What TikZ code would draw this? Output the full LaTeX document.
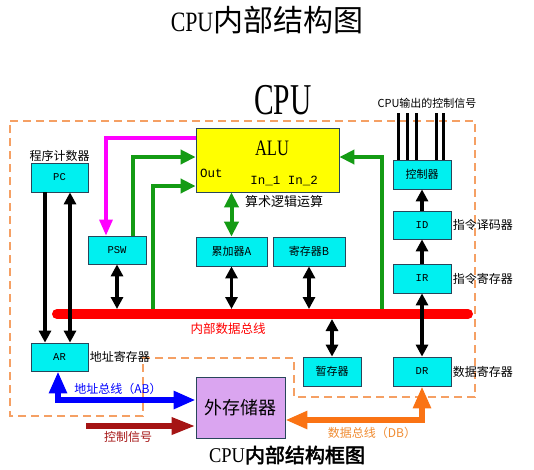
\documentclass[tikz,border=0pt]{standalone}
\usepackage{fontspec}
\usepackage{graphicx}
\setmainfont{Liberation Serif}
\newfontfamily\cjk{Noto Sans CJK SC}
\newfontfamily\cjkbf[FakeBold=2.5]{Noto Sans CJK SC}
\newfontfamily\mono{Liberation Mono}
\usetikzlibrary{arrows.meta}
\definecolor{regcyan}{RGB}{0,240,240}
\definecolor{regline}{RGB}{40,70,90}
\definecolor{alufill}{RGB}{255,255,0}
\definecolor{memfill}{RGB}{218,165,240}
\definecolor{cpuedge}{RGB}{245,160,100}
\definecolor{aluarrow}{RGB}{20,155,20}
\definecolor{pswarrow}{RGB}{255,0,255}
\definecolor{abus}{RGB}{0,0,255}
\definecolor{dbus}{RGB}{250,115,20}
\definecolor{dbustext}{RGB}{240,140,50}
\definecolor{ctrlsig}{RGB}{165,20,20}
\newcommand{\fsz}[1]{\fontsize{#1}{#1}\selectfont}
\newcommand{\narrow}[2]{\scalebox{#1}[1]{#2}}
\tikzset{every path/.style={thick}}
\tikzset{
  reg/.style={draw=regline, fill=regcyan, line width=0.8pt, inner sep=0pt,
    minimum width=58pt, minimum height=29pt, font=\mono\fsz{10.5}},
  cnreg/.style={reg, font=\cjk\fsz{11}},
  note/.style={inner sep=1pt, font=\cjk\fsz{12}},
  blk/.style={black, line width=3.2pt, >={Triangle[length=12pt,width=12pt]}},
  grn/.style={aluarrow, line width=4pt, >={Triangle[length=15pt,width=14pt]}},
  mag/.style={pswarrow, line width=3.2pt, >={Triangle[length=16pt,width=13pt]}},
  abusline/.style={abus, line width=6.5pt, >={Triangle[length=22pt,width=17pt]}},
  dbusline/.style={dbus, line width=6.5pt, >={Triangle[length=22pt,width=17pt]}},
  ctrlline/.style={ctrlsig, line width=6pt, >={Triangle[length=24pt,width=16pt]}},
  cpubound/.style={cpuedge, line width=1.2pt, dash pattern=on 8pt off 5pt}
}

\begin{document}
\begin{tikzpicture}[x=1pt,y=-1pt]
\path[fill=white] (0,0) rectangle (534,469);
\useasboundingbox (0,0) rectangle (534,469);

\node[inner sep=0pt] (title) at (267,20) {\fsz{28}\narrow{0.78}{CPU}\cjk\fsz{30}内部结构图};
\node[inner sep=0pt] (cpulbl) at (283,100) {\fsz{44}\narrow{0.67}{CPU}};

% CPU boundary
\draw[cpubound] (10,121) -- (475,121) -- (475,397) -- (294,397) -- (294,358)
  -- (143,358) -- (143,416) -- (10,416) -- cycle;

% registers and units
\node[reg, minimum width=57pt] (pc) at (59.5,177.5) {PC};
\node[reg, minimum height=28pt] (psw) at (117,250) {PSW};
\node[cnreg, minimum width=71pt] (acc) at (231.5,251.5) {累加器A};
\node[cnreg, minimum width=72pt] (regb) at (309,251.5) {寄存器B};
\node[draw=regline, fill=alufill, line width=0.8pt, minimum width=143pt,
  minimum height=64pt] (alu) at (267.5,160) {};
\node[inner sep=0pt, font=\fsz{22}] (alut) at ([xshift=4.5pt,yshift=12pt]alu.center) {\narrow{0.75}{ALU}};
\node[inner sep=0pt, anchor=west, font=\mono\fsz{12.5}] (aluout) at ([xshift=4pt,yshift=-13pt]alu.west) {Out};
\node[inner sep=0pt, font=\mono\fsz{12.5}] (aluin) at ([xshift=16.5pt,yshift=-21pt]alu.center) {In\_1 In\_2};
\node[cnreg] (ctl) at (422,174.5) {控制器};
\node[reg, minimum height=28pt] (id) at (422,225) {ID};
\node[reg] (ir) at (422,278.5) {IR};
\node[reg] (dr) at (422,371.5) {DR};
\node[cnreg] (tmp) at (332,371.5) {暂存器};
\node[reg, minimum width=57pt, minimum height=28pt] (ar) at (59.5,357) {AR};
\node[draw=regline, fill=memfill, line width=0.8pt, minimum width=89pt,
  minimum height=61pt, font=\cjk\fsz{18}] (mem) at (240.5,407.5) {外存储器};

% internal bus
\coordinate (busl) at (57,314);
\coordinate (busr) at (468,314);
\coordinate (bustop) at (0,309);
\coordinate (busbot) at (0,319);
\coordinate (gin1) at (153,309);
\coordinate (gin2) at (382,309);
\coordinate (sigtop) at (0,113);
\coordinate (ctlsrc) at (86,426);
\draw[red, line width=10pt, line cap=round] (busl) -- (busr);

\draw[blk,->] ([xshift=-14.5pt]pc.south) -- ([xshift=-14.5pt]ar.north);
\draw[blk,<->] ([xshift=10.5pt]pc.south) -- ([xshift=10.5pt]ar.north);
\draw[blk,<->] (psw.south) -- (psw.south |- bustop);
\draw[blk,<->] (acc.south) -- (acc.south |- bustop);
\draw[blk,<->] (regb.south) -- (regb.south |- bustop);
\draw[blk,<->] (tmp.north |- busbot) -- (tmp.north);
\draw[blk,<->] (ir.south) -- (dr.north);
\draw[blk,->] (ir.north) -- (id.south);
\draw[blk,->] (id.north) -- (ctl.south);
\foreach \dx in {-24,-15,-6,14,21}
  \draw[line width=3pt] ([xshift=\dx pt]ctl.north) -- ([xshift=\dx pt]ctl.north |- sigtop);

\draw[grn,<->] (acc.north |- alu.south) -- (acc.north);
\draw[grn,->] ([xshift=16pt]psw.north) |- ([yshift=3pt]alu.west);
\draw[grn,->] (gin1) |- ([yshift=-26pt]alu.west);
\draw[grn,->] (gin2) |- ([yshift=3pt]alu.east);
\draw[mag,->] ([yshift=22pt]alu.west) -| ([xshift=-11pt]psw.north);

% external buses
\draw[abusline,<->] ([xshift=-1.5pt]ar.south) |- ([yshift=7.5pt]mem.west);
\draw[dbusline,<->] ([yshift=-12.5pt]mem.east) -| (dr.south);
\draw[ctrlline,->] (ctlsrc) -- (mem.west |- ctlsrc);

% labels
\node[note, above] (pclbl) at (pc.north) {程序计数器};
\node[note, right] (arlbl) at (ar.east) {地址寄存器};
\node[note, right] (idlbl) at (id.east) {指令译码器};
\node[note, right] (irlbl) at (ir.east) {指令寄存器};
\node[note, right] (drlbl) at (dr.east) {数据寄存器};
\node[note, font=\cjk\fsz{11}] (sigout) at (427,103) {CPU输出的控制信号};
\node[note, anchor=north, font=\cjk\fsz{13}] (alulbl) at ([xshift=16.5pt,yshift=-2pt]alu.south) {算术逻辑运算};
\node[note, red, font=\cjk\fsz{12.5}] (buslbl) at (228,329) {内部数据总线};
\node[note, abus] (ablbl) at (118,389) {地址总线（AB）};
\node[note, ctrlsig] (ctllbl) at (128,437) {控制信号};
\node[note, dbustext] (dblbl) at (372,433) {数据总线（DB）};

\node[inner sep=0pt] (caption) at (287,455) {\fsz{21}\narrow{0.88}{CPU}\cjkbf\fsz{20}内部结构框图};
\end{tikzpicture}
\end{document}
